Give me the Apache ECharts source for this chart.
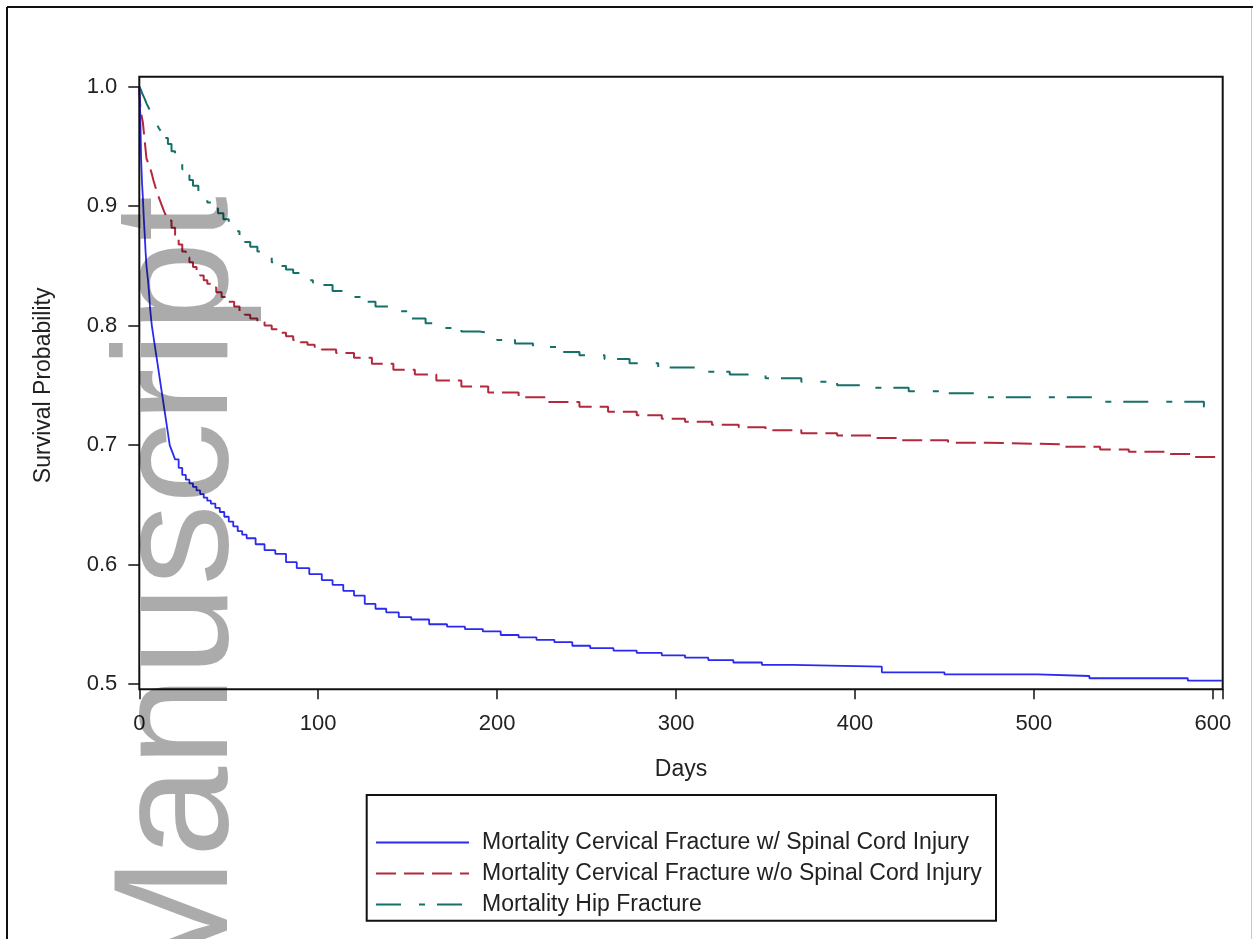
<!DOCTYPE html>
<html>
<head>
<meta charset="utf-8">
<script src="https://cdn.jsdelivr.net/npm/echarts@6/dist/echarts.min.js"></script>
<style>
  html, body { margin: 0; padding: 0; background: #fff; }
  #chart { width: 1253px; height: 939px; }
</style>
</head>
<body>
<div id="chart"></div>
<script>
// days and survival estimates (step changes)
var daysSci = [0, 0.5, 1, 1.5, 2, 2.5, 3, 3.5, 4, 4.5, 5, 5.5, 6, 6.5, 7, 7.5, 8, 9, 10, 11, 12, 13, 14, 15, 16, 17, 18, 19, 20, 22, 24, 26, 28, 30, 32, 34, 36, 38, 40, 42.5, 45, 47.5, 50, 52.5, 55, 57.5, 60, 65, 70, 76, 82, 88, 95, 102, 108, 114, 120, 126, 132, 138, 145, 152, 162, 172, 182, 192, 202, 212, 222, 232, 242, 252, 265, 278, 292, 305, 318, 332, 348, 365, 415, 450, 502, 531, 586, 605];
var survSci = [1.0, 0.979, 0.94, 0.92, 0.907, 0.89, 0.877, 0.862, 0.85, 0.843, 0.836, 0.826, 0.815, 0.807, 0.80, 0.795, 0.79, 0.78, 0.77, 0.76, 0.75, 0.74, 0.73, 0.72, 0.71, 0.70, 0.696, 0.692, 0.688, 0.681, 0.675, 0.671, 0.668, 0.665, 0.662, 0.659, 0.656, 0.6535, 0.651, 0.6475, 0.644, 0.640, 0.636, 0.632, 0.628, 0.625, 0.622, 0.617, 0.612, 0.609, 0.602, 0.597, 0.592, 0.587, 0.583, 0.578, 0.574, 0.567, 0.563, 0.560, 0.556, 0.554, 0.550, 0.548, 0.546, 0.544, 0.541, 0.539, 0.537, 0.535, 0.532, 0.530, 0.528, 0.526, 0.524, 0.522, 0.520, 0.518, 0.516, 0.5145, 0.5098, 0.508, 0.5067, 0.5048, 0.5028, 0.5028];

var daysNoSci = [0, 0.5, 1, 2, 3, 4, 5, 6, 7, 8, 9, 10, 11, 12, 13, 14, 15, 16, 18, 20, 22, 24, 26, 28, 30, 32, 34, 36, 38, 40, 43, 46, 50, 53, 56, 59, 62, 66, 70, 74, 78, 82, 86, 90, 94, 98, 102, 110, 120, 130, 142, 154, 166, 180, 195, 212, 228, 246, 262, 278, 292, 305, 320, 335, 350, 370, 390, 410, 424, 452, 474, 516, 537, 553, 573, 590, 605];
var survNoSci = [1.0, 0.985, 0.978, 0.970, 0.955, 0.940, 0.936, 0.932, 0.927, 0.921, 0.916, 0.911, 0.907, 0.903, 0.899, 0.895, 0.892, 0.888, 0.882, 0.875, 0.868, 0.862, 0.857, 0.853, 0.849, 0.845, 0.842, 0.838, 0.835, 0.832, 0.828, 0.824, 0.820, 0.816, 0.812, 0.809, 0.806, 0.803, 0.800, 0.797, 0.794, 0.791, 0.788, 0.786, 0.784, 0.782, 0.780, 0.777, 0.773, 0.768, 0.763, 0.759, 0.754, 0.749, 0.744, 0.740, 0.736, 0.732, 0.728, 0.725, 0.722, 0.7195, 0.717, 0.715, 0.7125, 0.710, 0.708, 0.706, 0.704, 0.702, 0.7006, 0.6986, 0.6964, 0.6944, 0.6925, 0.690, 0.690];

var daysHip = [0, 1, 2, 3, 4, 5, 6, 7, 8, 9, 10, 11, 12, 14, 16, 18, 20, 22, 24, 26, 28, 30, 33, 36, 38, 41, 44, 47, 50, 53, 56, 59, 62, 66, 70, 74, 78, 82, 86, 90, 94, 97, 100, 108, 116, 124, 132, 140, 150, 160, 170, 180, 190, 200, 210, 220, 233, 246, 260, 274, 290, 312, 330, 350, 370, 390, 410, 430, 450, 472, 535, 595, 605];
var survHip = [1.0, 0.997, 0.993, 0.990, 0.986, 0.983, 0.980, 0.977, 0.974, 0.971, 0.968, 0.965, 0.963, 0.957, 0.952, 0.946, 0.941, 0.936, 0.931, 0.926, 0.922, 0.917, 0.911, 0.906, 0.903, 0.898, 0.894, 0.889, 0.884, 0.879, 0.874, 0.870, 0.866, 0.862, 0.857, 0.853, 0.850, 0.847, 0.844, 0.841, 0.838, 0.836, 0.834, 0.829, 0.824, 0.820, 0.816, 0.812, 0.806, 0.802, 0.798, 0.795, 0.7935, 0.788, 0.785, 0.782, 0.778, 0.7753, 0.772, 0.7684, 0.765, 0.7613, 0.759, 0.756, 0.753, 0.750, 0.748, 0.745, 0.7433, 0.740, 0.7362, 0.732, 0.732];

var seriesNames = [
    'Mortality Cervical Fracture w/ Spinal Cord Injury',
    'Mortality Cervical Fracture w/o Spinal Cord Injury',
    'Mortality Hip Fracture'
];
var xTicks = [0, 100, 200, 300, 400, 500, 600];
var yTicks = [0.5, 0.6, 0.7, 0.8, 0.9, 1.0];

function pairs(xs, ys){
    var out = [];
    for (var i = 0; i < xs.length; i++) {
        out.push([xs[i], ys[i]]);
    }
    return out;
}

var chart = echarts.init(document.getElementById('chart'));
var font = 'Liberation Sans, Arial, sans-serif';

var option = {
    backgroundColor: '#fff',
    animation: false,
    grid: {
        left: 139.3,
        right: 30.3,
        top: 86.7,
        bottom: 255
    },
    xAxis: {
        type: 'value',
        min: 0,
        max: 605.5,
        interval: 100,
        offset: 5.3,
        name: 'Days',
        nameLocation: 'middle',
        nameGap: 69,
        nameTextStyle: { color: '#222', fontSize: 23, fontFamily: font },
        axisLine: { show: false },
        axisTick: { show: true, length: 10, lineStyle: { color: '#111', width: 1.5 } },
        axisLabel: {
            color: '#222', fontSize: 22, fontFamily: font, margin: 24,
            customValues: xTicks
        },
        splitLine: { show: false }
    },
    yAxis: {
        type: 'value',
        min: 0.5,
        max: 1.0,
        interval: 0.1,
        name: 'Survival Probability',
        nameLocation: 'middle',
        nameGap: 84,
        nameTextStyle: { color: '#222', fontSize: 23, fontFamily: font },
        axisLine: { show: false },
        axisTick: { show: true, length: 11, lineStyle: { color: '#111', width: 1.5 } },
        axisLabel: {
            color: '#222', fontSize: 22, fontFamily: font, margin: 22,
            formatter: function(v){ return v.toFixed(1); }
        },
        splitLine: { show: false }
    },
    legend: {
        orient: 'vertical',
        left: 375,
        top: 831,
        padding: 0,
        itemGap: 8,
        itemWidth: 93,
        itemHeight: 14,
        itemStyle: { opacity: 0 },
        data: seriesNames,
        textStyle: { color: '#222', fontSize: 23, fontFamily: font, padding: [0, 0, 0, 8] }
    },
    series: [
        {
            name: seriesNames[0],
            type: 'line',
            step: 'end',
            symbol: 'none',
            clip: false,
            data: pairs(daysSci, survSci),
            lineStyle: { color: '#2a2af0', width: 1.8 },
            itemStyle: { color: '#2a2af0' },
            z: 3
        },
        {
            name: seriesNames[1],
            type: 'line',
            step: 'end',
            symbol: 'none',
            clip: false,
            data: pairs(daysNoSci, survNoSci),
            lineStyle: { color: '#b4283c', width: 2, type: [20, 8] },
            itemStyle: { color: '#b4283c' },
            z: 2
        },
        {
            name: seriesNames[2],
            type: 'line',
            step: 'end',
            symbol: 'none',
            clip: false,
            data: pairs(daysHip, survHip),
            lineStyle: { color: '#157068', width: 2, type: [25, 18, 6, 12] },
            itemStyle: { color: '#157068' },
            z: 2
        }
    ],
    graphic: [
        // outer frame
        { type: 'line', shape: { x1: 7, y1: 7, x2: 1253, y2: 7 }, style: { stroke: '#111', lineWidth: 2 } },
        { type: 'line', shape: { x1: 7, y1: 7, x2: 7, y2: 939 }, style: { stroke: '#111', lineWidth: 2 } },
        { type: 'line', shape: { x1: 1251.5, y1: 8, x2: 1251.5, y2: 939 }, style: { stroke: '#c8c8c8', lineWidth: 1 } },
        // plot frame
        { type: 'rect', shape: { x: 139.3, y: 76.7, width: 1083.4, height: 612.6 },
          style: { fill: null, stroke: '#111', lineWidth: 2 }, z: 10 },
        // legend box
        { type: 'rect', shape: { x: 366.7, y: 795, width: 629.3, height: 125.7 },
          style: { fill: null, stroke: '#111', lineWidth: 2 }, z: 10 },
        // watermark
        { type: 'text', x: 182, y: 196, rotation: Math.PI / 2, z: 100,
          style: { text: 'Manuscript', fill: 'rgba(0,0,0,0.33)', font: '163px Liberation Sans, Arial, sans-serif',
                   textAlign: 'right', textVerticalAlign: 'middle' } }
    ]
};

chart.setOption(option);
</script>
</body>
</html>
